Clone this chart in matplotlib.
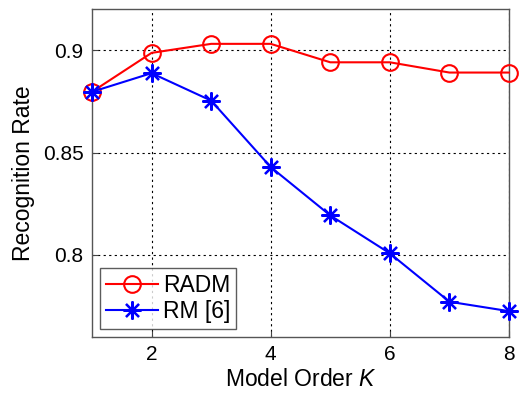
import matplotlib
matplotlib.use("Agg")
import matplotlib.pyplot as plt

plt.rcParams['font.family'] = ['Liberation Sans', 'DejaVu Sans']
plt.rcParams['mathtext.fontset'] = 'custom'
plt.rcParams['mathtext.it'] = 'Liberation Sans:italic'
plt.rcParams['mathtext.rm'] = 'Liberation Sans'

model_order = [1, 2, 3, 4, 5, 6, 7, 8]
radm = [0.8796, 0.8986, 0.9030, 0.9030, 0.8940, 0.8940, 0.8890, 0.8890]
rm6 = [0.8796, 0.8887, 0.8753, 0.8429, 0.8193, 0.8008, 0.7772, 0.7726]
xticks = [2, 4, 6, 8]
yticks = [0.8, 0.85, 0.9]
ytick_labels = ["0.8", "0.85", "0.9"]

fig = plt.figure(figsize=(5.19, 3.94), dpi=100)
ax = fig.add_axes([92 / 519, 1 - 337 / 394, (509 - 92) / 519, (337 - 9) / 394])

# asterisk marker: plus and cross arms
asterisk = (8, 2, 0)

ax.plot(model_order, radm, color='#ff0000', lw=1.5, marker='o', ms=12,
        mfc='none', mec='#ff0000', mew=1.5, label='RADM', zorder=3)
ax.plot(model_order, rm6, color='#0000ff', lw=1.5, marker=asterisk, ms=13,
        mfc='#0000ff', mec='#0000ff', mew=1.6, label='RM [6]', zorder=3)

ax.set_xlim(1, 8)
ax.set_ylim(0.76, 0.92)
ax.set_xticks(xticks)
ax.set_yticks(yticks)
ax.set_yticklabels(ytick_labels)
ax.tick_params(direction='in', length=4, labelsize=15, color='#444444', pad=6)
ax.grid(True, color='black', linestyle=(0, (2, 3)), linewidth=0.8)
for s in ax.spines.values():
    s.set_color('#555555')
    s.set_linewidth(1.0)
for line in ax.lines:
    line.set_clip_on(False)

ax.set_xlabel(r'Model Order $K$', fontsize=16.5, labelpad=3)
ax.set_ylabel('Recognition Rate', fontsize=16.5, labelpad=6)

leg = ax.legend(loc='lower left', fontsize=16.5, frameon=True, fancybox=False,
                edgecolor='#333333', handlelength=2.3, borderpad=0.25,
                labelspacing=0.15, handletextpad=0.2, borderaxespad=0.35)
leg.get_frame().set_linewidth(1.0)

fig.savefig('out.png', dpi=100)
